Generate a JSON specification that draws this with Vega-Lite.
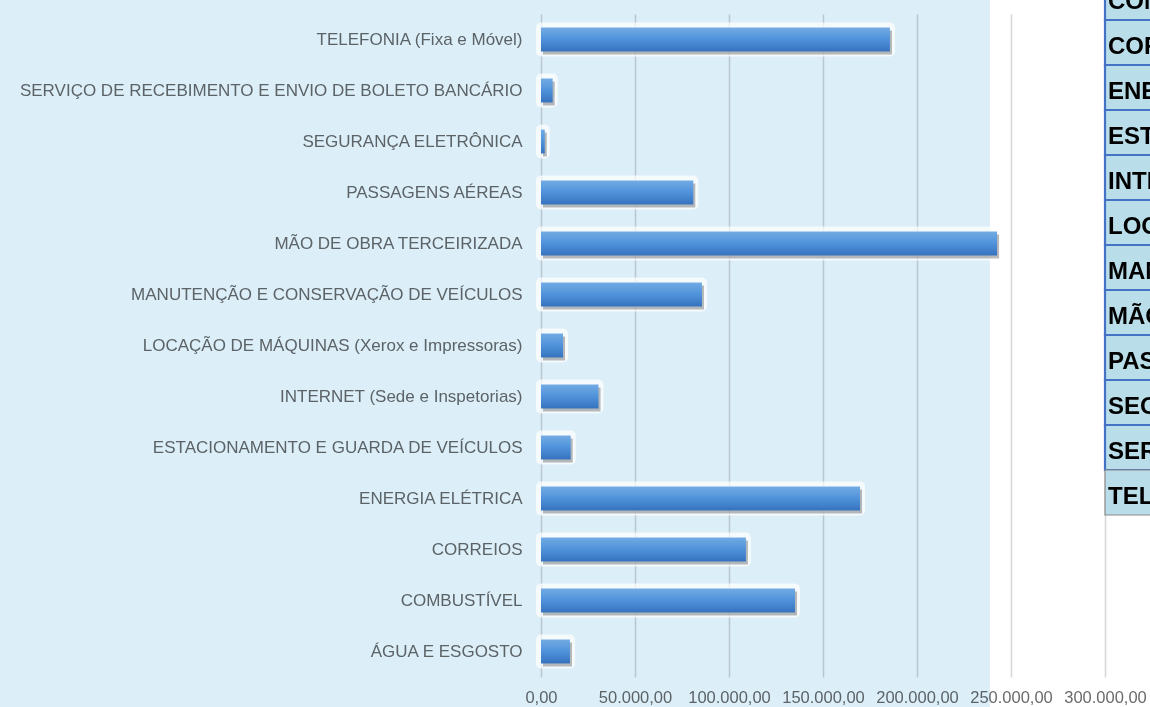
{
  "$schema": "https://vega.github.io/schema/vega-lite/v6.json",
  "width": 609,
  "height": 663,
  "autosize": {"type": "none"},
  "padding": {"left": 541, "top": 14, "right": 0, "bottom": 30},
  "background": "white",
  "config": {
    "view": {"stroke": null},
    "font": "Liberation Sans",
    "locale": {"number": {"decimal": ",", "thousands": ".", "grouping": [3], "currency": ["R$", ""]}}
  },
  "data": {
    "values": [
      {"cat": "ÁGUA E ESGOSTO", "valor": 15400},
      {"cat": "COMBUSTÍVEL", "valor": 135100},
      {"cat": "CORREIOS", "valor": 109000},
      {"cat": "ENERGIA ELÉTRICA", "valor": 169700},
      {"cat": "ESTACIONAMENTO E GUARDA DE VEÍCULOS", "valor": 15800},
      {"cat": "INTERNET (Sede e Inspetorias)", "valor": 30600},
      {"cat": "LOCAÇÃO DE MÁQUINAS (Xerox e Impressoras)", "valor": 11700},
      {"cat": "MANUTENÇÃO E CONSERVAÇÃO DE VEÍCULOS", "valor": 85600},
      {"cat": "MÃO DE OBRA TERCEIRIZADA", "valor": 242600},
      {"cat": "PASSAGENS AÉREAS", "valor": 81000},
      {"cat": "SEGURANÇA ELETRÔNICA", "valor": 2000},
      {"cat": "SERVIÇO DE RECEBIMENTO E ENVIO DE BOLETO BANCÁRIO", "valor": 6200},
      {"cat": "TELEFONIA (Fixa e Móvel)", "valor": 185600}
    ]
  },
  "resolve": {"scale": {"y": "independent"}, "axis": {"y": "independent"}},
  "layer": [
    {
      "data": {"values": [{}]},
      "mark": {"type": "rect", "color": "#DCEEF8", "blend": "multiply", "clip": false},
      "encoding": {
        "x": {"datum": -400000, "type": "quantitative", "scale": {"domain": [0, 323936], "nice": false}},
        "x2": {"datum": 238800},
        "y": {"datum": -1, "type": "quantitative", "scale": {"domain": [0, 1]}, "axis": null},
        "y2": {"datum": 2}
      }
    },
    {
      "mark": {"type": "bar", "color": "white", "stroke": "white", "strokeWidth": 10, "strokeOpacity": 0.7, "strokeJoin": "round"},
      "encoding": {
        "y": {"field": "cat", "type": "nominal",
          "sort": ["TELEFONIA (Fixa e Móvel)", "SERVIÇO DE RECEBIMENTO E ENVIO DE BOLETO BANCÁRIO", "SEGURANÇA ELETRÔNICA", "PASSAGENS AÉREAS", "MÃO DE OBRA TERCEIRIZADA", "MANUTENÇÃO E CONSERVAÇÃO DE VEÍCULOS", "LOCAÇÃO DE MÁQUINAS (Xerox e Impressoras)", "INTERNET (Sede e Inspetorias)", "ESTACIONAMENTO E GUARDA DE VEÍCULOS", "ENERGIA ELÉTRICA", "CORREIOS", "COMBUSTÍVEL", "ÁGUA E ESGOSTO"],
          "scale": {"paddingInner": 0.53, "paddingOuter": 0.265}, "axis": null},
        "x": {"field": "valor", "type": "quantitative", "scale": {"domain": [0, 323936], "nice": false}}
      }
    },
    {
      "mark": {"type": "bar", "color": "#3a3a3a", "opacity": 0.35, "xOffset": 2, "yOffset": 3},
      "encoding": {
        "y": {"field": "cat", "type": "nominal",
          "sort": ["TELEFONIA (Fixa e Móvel)", "SERVIÇO DE RECEBIMENTO E ENVIO DE BOLETO BANCÁRIO", "SEGURANÇA ELETRÔNICA", "PASSAGENS AÉREAS", "MÃO DE OBRA TERCEIRIZADA", "MANUTENÇÃO E CONSERVAÇÃO DE VEÍCULOS", "LOCAÇÃO DE MÁQUINAS (Xerox e Impressoras)", "INTERNET (Sede e Inspetorias)", "ESTACIONAMENTO E GUARDA DE VEÍCULOS", "ENERGIA ELÉTRICA", "CORREIOS", "COMBUSTÍVEL", "ÁGUA E ESGOSTO"],
          "scale": {"paddingInner": 0.53, "paddingOuter": 0.265}, "axis": null},
        "x": {"field": "valor", "type": "quantitative", "scale": {"domain": [0, 323936], "nice": false}}
      }
    },
    {
      "mark": {"type": "bar",
        "color": {"gradient": "linear", "x1": 0, "y1": 0, "x2": 0, "y2": 1,
          "stops": [{"offset": 0, "color": "#72ABE4"}, {"offset": 0.5, "color": "#4F92DA"}, {"offset": 1, "color": "#3672BE"}]}},
      "encoding": {
        "y": {"field": "cat", "type": "nominal",
          "sort": ["TELEFONIA (Fixa e Móvel)", "SERVIÇO DE RECEBIMENTO E ENVIO DE BOLETO BANCÁRIO", "SEGURANÇA ELETRÔNICA", "PASSAGENS AÉREAS", "MÃO DE OBRA TERCEIRIZADA", "MANUTENÇÃO E CONSERVAÇÃO DE VEÍCULOS", "LOCAÇÃO DE MÁQUINAS (Xerox e Impressoras)", "INTERNET (Sede e Inspetorias)", "ESTACIONAMENTO E GUARDA DE VEÍCULOS", "ENERGIA ELÉTRICA", "CORREIOS", "COMBUSTÍVEL", "ÁGUA E ESGOSTO"],
          "scale": {"paddingInner": 0.53, "paddingOuter": 0.265},
          "axis": {"title": null, "domain": false, "ticks": false, "grid": false, "labelPadding": 19, "labelFontSize": 17, "labelColor": "#6A6A6A", "labelLimit": 700, "labelFont": "Liberation Sans"}},
        "x": {"field": "valor", "type": "quantitative", "scale": {"domain": [0, 323936], "nice": false},
          "axis": {"title": null, "values": [0, 50000, 100000, 150000, 200000, 250000, 300000], "format": ",.2f", "grid": true, "gridColor": "#D6D6D6", "gridWidth": 1.5, "domain": false, "ticks": false, "labelPadding": 12, "labelFontSize": 16.5, "labelColor": "#6A6A6A", "labelFlush": false, "labelOverlap": false, "labelFont": "Liberation Sans"}}
      }
    },
    {
      "mark": {"type": "rect", "fill": "#B9DDE9", "clip": false},
      "encoding": {
        "y": {"field": "cat", "type": "nominal",
          "sort": ["ÁGUA E ESGOSTO", "COMBUSTÍVEL", "CORREIOS", "ENERGIA ELÉTRICA", "ESTACIONAMENTO E GUARDA DE VEÍCULOS", "INTERNET (Sede e Inspetorias)", "LOCAÇÃO DE MÁQUINAS (Xerox e Impressoras)", "MANUTENÇÃO E CONSERVAÇÃO DE VEÍCULOS", "MÃO DE OBRA TERCEIRIZADA", "PASSAGENS AÉREAS", "SEGURANÇA ELETRÔNICA", "SERVIÇO DE RECEBIMENTO E ENVIO DE BOLETO BANCÁRIO", "TELEFONIA (Fixa e Móvel)"],
          "scale": {"range": [-84, 501], "paddingInner": 0, "paddingOuter": 0}, "axis": null},
        "x": {"datum": 300000, "type": "quantitative", "scale": {"domain": [0, 323936], "nice": false}},
        "x2": {"datum": 450000},
        "stroke": {"condition": {"test": "datum.cat === 'TELEFONIA (Fixa e Móvel)'", "value": "#8A8A8A"}, "value": "#4472C4"},
        "strokeWidth": {"condition": {"test": "datum.cat === 'TELEFONIA (Fixa e Móvel)'", "value": 1.2}, "value": 2.2},
        "strokeDash": {"condition": {"test": "datum.cat === 'TELEFONIA (Fixa e Móvel)'", "value": [3, 2]}, "value": [1, 0]}
      }
    },
    {
      "mark": {"type": "text", "align": "left", "baseline": "middle", "dx": 3, "dy": 4, "fontSize": 24, "fontWeight": "bold", "font": "Liberation Sans", "color": "#000000", "clip": false},
      "encoding": {
        "y": {"field": "cat", "type": "nominal",
          "sort": ["ÁGUA E ESGOSTO", "COMBUSTÍVEL", "CORREIOS", "ENERGIA ELÉTRICA", "ESTACIONAMENTO E GUARDA DE VEÍCULOS", "INTERNET (Sede e Inspetorias)", "LOCAÇÃO DE MÁQUINAS (Xerox e Impressoras)", "MANUTENÇÃO E CONSERVAÇÃO DE VEÍCULOS", "MÃO DE OBRA TERCEIRIZADA", "PASSAGENS AÉREAS", "SEGURANÇA ELETRÔNICA", "SERVIÇO DE RECEBIMENTO E ENVIO DE BOLETO BANCÁRIO", "TELEFONIA (Fixa e Móvel)"],
          "scale": {"range": [-84, 501], "paddingInner": 0, "paddingOuter": 0}, "axis": null},
        "x": {"datum": 300000, "type": "quantitative", "scale": {"domain": [0, 323936], "nice": false}},
        "text": {"field": "cat"}
      }
    }
  ]
}
